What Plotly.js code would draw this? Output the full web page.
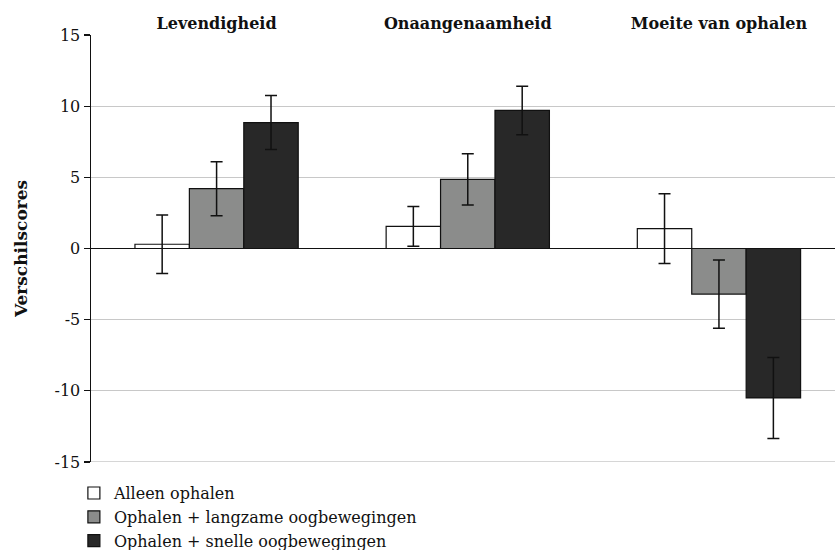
<!DOCTYPE html>
<html>
<head>
<meta charset="utf-8">
<script src="https://cdn.plot.ly/plotly-3.0.1.min.js"></script>
<style>html,body{margin:0;padding:0;background:#fff;overflow:hidden}#chart{width:835px;height:550px}</style>
</head>
<body>
<div id="chart"></div>
<script>
const categories = ["Levendigheid", "Onaangenaamheid", "Moeite van ophalen"];
const seriesNames = ["Alleen ophalen", "Ophalen + langzame oogbewegingen", "Ophalen + snelle oogbewegingen"];
const alleenValues = [0.3, 1.55, 1.4];
const alleenErrors = [2.05, 1.4, 2.45];
const langzaamValues = [4.2, 4.85, -3.2];
const langzaamErrors = [1.9, 1.8, 2.4];
const snelValues = [8.85, 9.7, -10.5];
const snelErrors = [1.9, 1.7, 2.85];
const yTickValues = [-15, -10, -5, 0, 5, 10, 15];
const yTickLabels = ["-15", "-10", "-5", "0", "5", "10", "15"];
const colors = ["#ffffff", "#8b8c8b", "#282828"];

const font = "DejaVu Serif";
function mk(name, vals, errs, color) {
  return {
    type: "bar", name: name, x: categories, y: vals,
    marker: {color: color, line: {color: "#111", width: 1.2}},
    error_y: {type: "data", array: errs, visible: true, color: "#111", thickness: 1.5, width: 6}
  };
}
const data = [
  mk(seriesNames[0], alleenValues, alleenErrors, colors[0]),
  mk(seriesNames[1], langzaamValues, langzaamErrors, colors[1]),
  mk(seriesNames[2], snelValues, snelErrors, colors[2])
];
const layout = {
  width: 835, height: 550,
  margin: {l: 91, r: 0, t: 35, b: 88, autoexpand: false},
  paper_bgcolor: "#fff", plot_bgcolor: "#fff",
  barmode: "group", bargap: 0.35, bargroupgap: 0,
  font: {family: font, color: "#111"},
  xaxis: {
    side: "top", type: "category", range: [-0.5, 2.462],
    showline: false, ticks: "", showgrid: false, zeroline: false,
    tickfont: {family: font, size: 16, color: "#111", weight: "bold"},
    ticklabelstandoff: 2, fixedrange: true
  },
  yaxis: {
    range: [-15, 15], tickvals: yTickValues, ticktext: yTickLabels,
    showline: true, linecolor: "#111", linewidth: 1.5,
    ticks: "outside", ticklen: 6, tickcolor: "#111", tickwidth: 1.2,
    showgrid: true, gridcolor: "#c8c8c8", gridwidth: 1.2,
    zeroline: true, zerolinecolor: "#111", zerolinewidth: 1.2,
    tickfont: {family: font, size: 16, color: "#111"},
    title: {text: "Verschilscores", font: {family: font, size: 17, color: "#111", weight: "bold"}, standoff: 22},
    fixedrange: true
  },
  shapes: [{
    type: "line", xref: "paper", x0: 0, x1: 1, yref: "y", y0: yTickValues[0], y1: yTickValues[0],
    line: {color: "#c8c8c8", width: 1.5}, layer: "below"
  }],
  showlegend: true,
  legend: {
    x: -0.023, y: -0.033, xanchor: "left", yanchor: "top",
    orientation: "v", traceorder: "normal",
    font: {family: font, size: 16, color: "#111"},
    itemwidth: 30, bgcolor: "rgba(0,0,0,0)", tracegroupgap: 0
  }
};
Plotly.newPlot("chart", data, layout, {displayModeBar: false, staticPlot: true});
</script>
</body>
</html>
